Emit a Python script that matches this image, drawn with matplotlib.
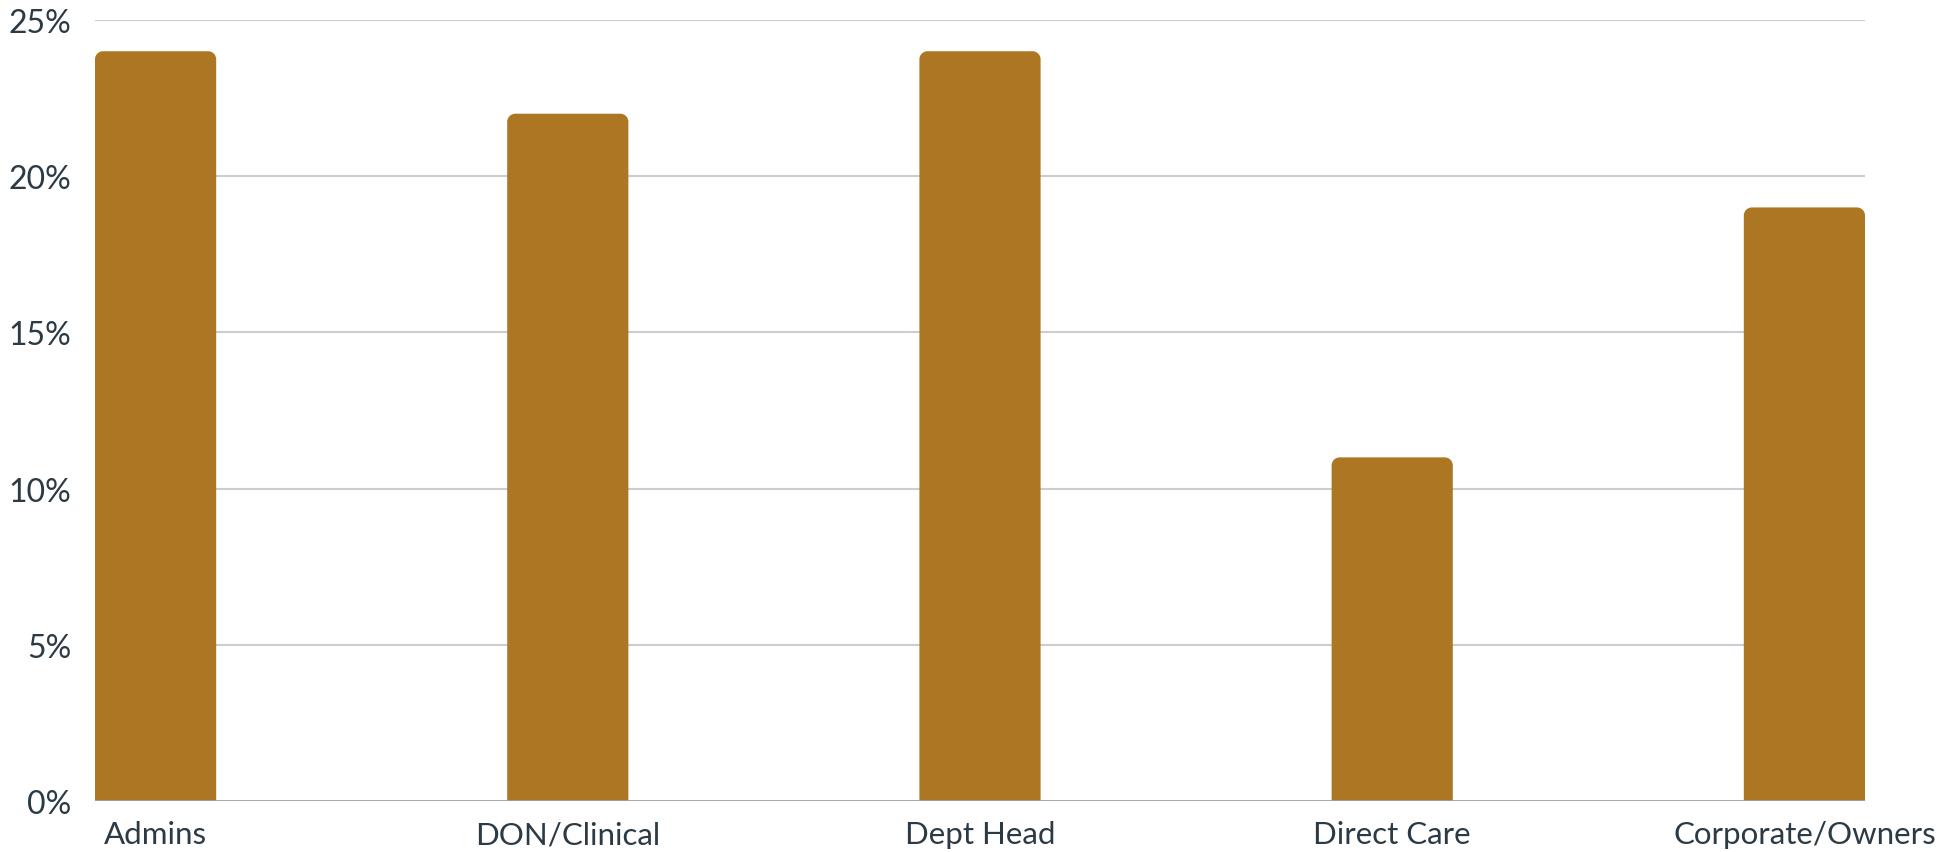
import matplotlib.pyplot as plt
from matplotlib.path import Path
from matplotlib.patches import PathPatch
from matplotlib.ticker import FuncFormatter

categories = ['Admins', 'DON/Clinical', 'Dept Head', 'Direct Care', 'Corporate/Owners']
values = [24, 22, 24, 11, 19]
yticks = [0, 5, 10, 15, 20, 25]

bar_color = '#AD7622'
text_color = '#2B3A44'
grid_color = '#CDCDD0'
base_color = '#9BA1A9'

plt.rcParams['font.family'] = ['Lato', 'DejaVu Sans']

W, H = 1959, 853
fig = plt.figure(figsize=(W / 100, H / 100), dpi=100)
left, right, bottom, top = 95, 1865, 802, 21
ax = fig.add_axes([left / W, 1 - bottom / H, (right - left) / W, (bottom - top) / H])

bw = 0.294
x = list(range(len(categories)))
bars = ax.bar(x, values, width=bw, color=bar_color, zorder=3)
ax.set_xlim(-bw / 2, len(categories) - 1 + bw / 2)
ax.set_ylim(0, 25)

# swap the plain rectangles for ones with rounded top corners
px_x = (right - left) / (ax.get_xlim()[1] - ax.get_xlim()[0])
px_y = (bottom - top) / 25.0
r = 8
rx, ry = r / px_x, r / px_y
k = 0.5523
for b in bars:
    x0, w, h = b.get_x(), b.get_width(), b.get_height()
    x1 = x0 + w
    verts = [(x0, 0), (x0, h - ry),
             (x0, h - ry + k * ry), (x0 + rx - k * rx, h), (x0 + rx, h),
             (x1 - rx, h),
             (x1 - rx + k * rx, h), (x1, h - ry + k * ry), (x1, h - ry),
             (x1, 0), (x0, 0)]
    codes = [Path.MOVETO, Path.LINETO,
             Path.CURVE4, Path.CURVE4, Path.CURVE4,
             Path.LINETO,
             Path.CURVE4, Path.CURVE4, Path.CURVE4,
             Path.LINETO, Path.CLOSEPOLY]
    ax.add_patch(PathPatch(Path(verts, codes), facecolor=bar_color,
                           edgecolor='none', zorder=3))
    b.remove()

ax.set_yticks(yticks)
ax.yaxis.set_major_formatter(FuncFormatter(lambda v, p: f'{v:.0f}%'))
ax.set_xticks(x)
ax.set_xticklabels(categories)

for t in yticks[1:]:
    ax.axhline(t, color=grid_color, lw=1.5, zorder=1)
ax.axhline(0, color=base_color, lw=2, zorder=4)

for s in ax.spines.values():
    s.set_visible(False)
ax.tick_params(axis='both', length=0, labelsize=22.5, colors=text_color)
ax.tick_params(axis='y', labelsize=23, pad=17)
ax.tick_params(axis='x', pad=14)

fig.savefig('out.png', dpi=100)
